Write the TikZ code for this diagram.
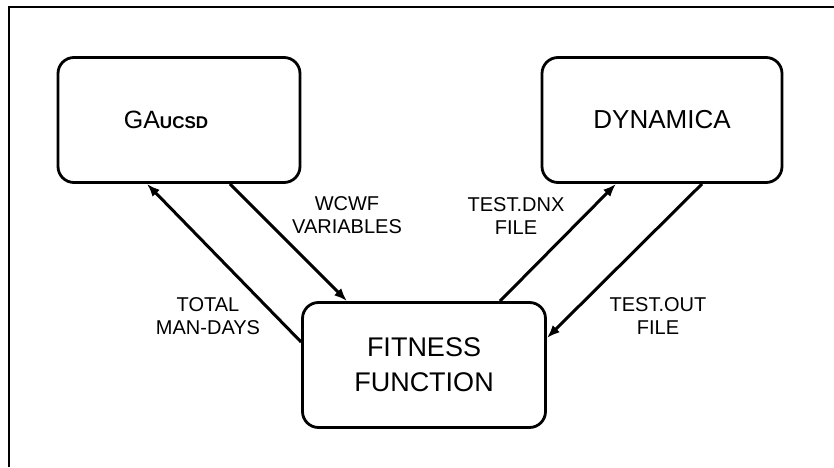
\documentclass[tikz,border=0pt]{standalone}
\usepackage{fontspec}
\setmainfont{Liberation Sans}
\usetikzlibrary{arrows.meta}

\tikzset{
  prog/.style={draw, line width=2.8pt, rounded corners=16pt, inner sep=0pt},
  flow/.style={line width=3pt, -{Latex[length=13pt,width=10pt]}},
  lbl/.style={align=center, font=\fontsize{20}{23}\selectfont}
}

\begin{document}
\begin{tikzpicture}[x=1pt, y=1pt]

  % Page size and the frame (only left and top edges show)
  \useasboundingbox (0,0) rectangle (834,467);
  \draw[line width=2.8pt] (9,0) -- (9,460) -- (834,460);

  % The three program boxes
  \node[prog, minimum width=242pt, minimum height=125pt,
        font=\fontsize{25}{28}\selectfont] (ga) at (179,347)
    {GA{\fontsize{17}{20}\selectfont\bfseries UCSD}\hspace*{26pt}};
  \node[prog, minimum width=240pt, minimum height=125pt,
        font=\fontsize{26}{30}\selectfont] (dyn) at (662,347) {DYNAMICA};
  \node[prog, minimum width=243pt, minimum height=125pt, align=center,
        font=\fontsize{27}{35}\selectfont] (fit) at (424,102) {FITNESS\\FUNCTION};

  % Data passed between the programs
  \draw[flow] ([yshift=23pt]fit.west) -- ([xshift=-32pt]ga.south);
  \draw[flow] ([xshift=51pt]ga.south) -- ([xshift=-77pt]fit.north);
  \draw[flow] ([xshift=76pt]fit.north) -- ([xshift=-46pt]dyn.south);
  \draw[flow] ([xshift=40pt]dyn.south) -- ([yshift=27pt]fit.east);

  % Labels on the connectors
  \node[lbl] (mandays) at (208,151) {TOTAL\\MAN-DAYS};
  \node[lbl] (wcwf) at (347,252) {WCWF\\VARIABLES};
  \node[lbl] (dnx) at (516,251) {TEST.DNX\\FILE};
  \node[lbl] (out) at (658,151) {TEST.OUT\\FILE};

\end{tikzpicture}
\end{document}
